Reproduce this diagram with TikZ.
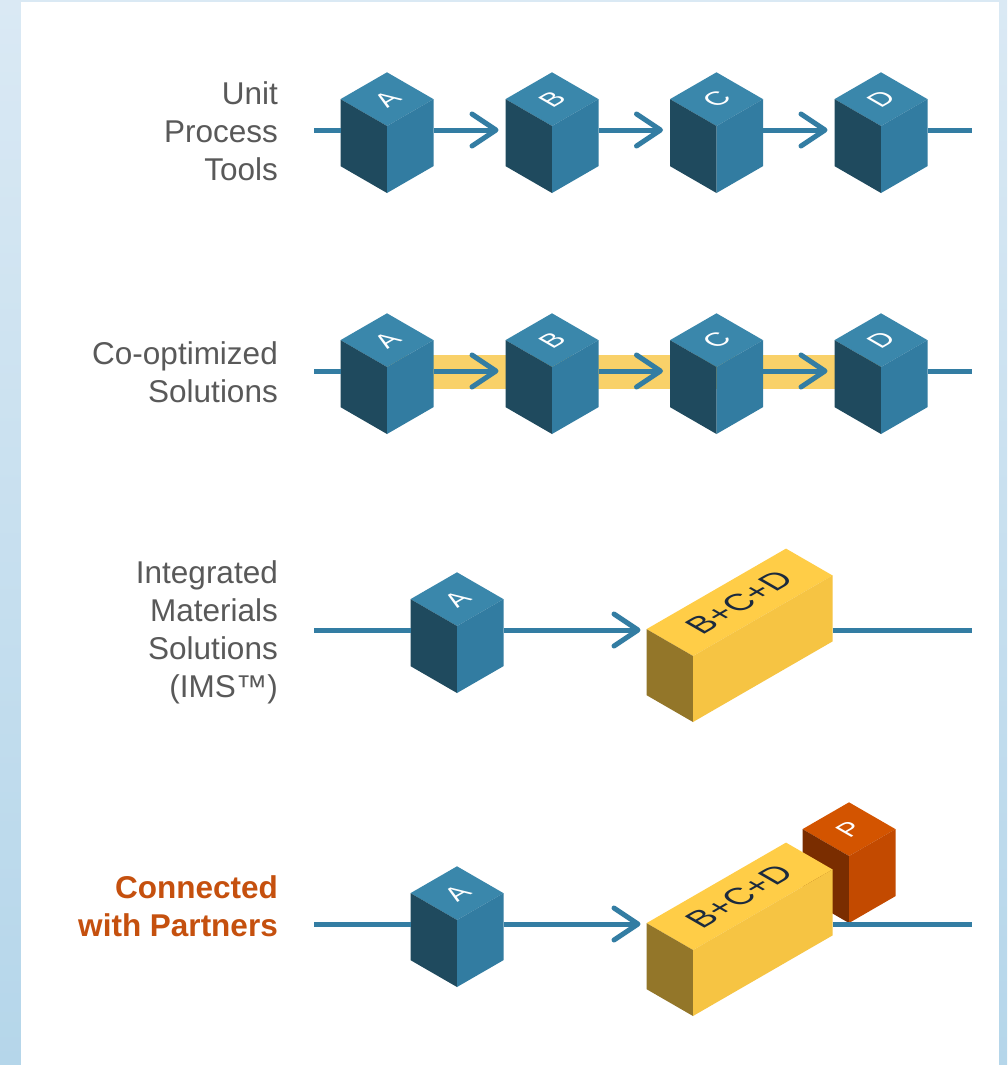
\documentclass[tikz,border=0pt]{standalone}
\usepackage{fontspec}
\setmainfont{Liberation Sans}
\usetikzlibrary{arrows.meta}
\definecolor{bgtop}{HTML}{DAE9F4}
\definecolor{bgbot}{HTML}{B5D6EA}
\definecolor{ctop}{HTML}{3A87AB}
\definecolor{cright}{HTML}{327CA1}
\definecolor{cleft}{HTML}{1F4A5E}
\definecolor{ytop}{HTML}{FFCD47}
\definecolor{yright}{HTML}{F6C443}
\definecolor{yleft}{HTML}{937629}
\definecolor{otop}{HTML}{D35400}
\definecolor{oright}{HTML}{C34A00}
\definecolor{oleft}{HTML}{7A2D00}
\definecolor{band}{HTML}{F9D169}
\definecolor{lineblue}{HTML}{337DA3}
\definecolor{txtgray}{HTML}{595959}
\definecolor{txtorange}{HTML}{C5500E}
\definecolor{navy}{HTML}{1B2A3E}
\tikzset{
  flow/.style={draw=lineblue, line width=5pt},
  arr/.style={flow, -{Straight Barb[length=24pt,width=32pt,round]}},
  lab/.style={font=\fontsize{31.5}{38}\selectfont, text=txtgray, align=right, anchor=east, inner sep=0pt},
  cubelab/.style={font=\fontsize{27}{27}\selectfont, text=white, inner sep=0pt},
  boxlab/.style={font=\fontsize{33}{33}\selectfont, text=navy, inner sep=0pt}
}
% name, cx, line y, top, right, left, label
\newcommand\isocube[7]{%
  \pgfmathsetmacro\cubX{#2}\pgfmathsetmacro\cubY{#3-4}%
  \fill[#4] (\cubX,\cubY) -- ({\cubX-46.5},{\cubY-26.85}) -- (\cubX,{\cubY-53.7}) -- ({\cubX+46.5},{\cubY-26.85}) -- cycle;
  \fill[#6] (\cubX,\cubY) -- ({\cubX-46.5},{\cubY-26.85}) -- ({\cubX-46.5},{\cubY+40.15}) -- (\cubX,{\cubY+67}) -- cycle;
  \fill[#5] (\cubX,\cubY) -- ({\cubX+46.5},{\cubY-26.85}) -- ({\cubX+46.5},{\cubY+40.15}) -- (\cubX,{\cubY+67}) -- cycle;
  \coordinate (#1-w) at ({\cubX-46.5},#3);
  \coordinate (#1-e) at ({\cubX+46.5},#3);
  \begin{scope}[shift={(\cubX,{\cubY-26.85})},cm={0.866,0.5,-0.866,0.5,(0,0)}]
    \node[cubelab,transform shape] (#1-lab) at (0,0) {#7};
  \end{scope}}
% name, front x, line y, label
\newcommand\isobox[4]{%
  \pgfmathsetmacro\boxX{#2}\pgfmathsetmacro\boxY{#3+26}%
  \fill[ytop] (\boxX,\boxY) -- ({\boxX-46.5},{\boxY-26.85}) -- ({\boxX+93},{\boxY-107.4}) -- ({\boxX+139.5},{\boxY-80.55}) -- cycle;
  \fill[yleft] (\boxX,\boxY) -- ({\boxX-46.5},{\boxY-26.85}) -- ({\boxX-46.5},{\boxY+39.15}) -- (\boxX,{\boxY+66}) -- cycle;
  \fill[yright] (\boxX,\boxY) -- ({\boxX+139.5},{\boxY-80.55}) -- ({\boxX+139.5},{\boxY-14.55}) -- (\boxX,{\boxY+66}) -- cycle;
  \coordinate (#1-w) at ({\boxX-46.5},#3);
  \coordinate (#1-e) at ({\boxX+139.5},#3);
  \begin{scope}[shift={({\boxX+46.5},{\boxY-53.7})},cm={0.866,0.5,-0.866,0.5,(0,0)}]
    \node[boxlab,transform shape] (#1-lab) at (0,0) {#4};
  \end{scope}}
\begin{document}
\begin{tikzpicture}[x=1pt,y=-1pt]
\useasboundingbox (0,0) rectangle (1007,1065);
\shade[top color=bgtop, bottom color=bgbot] (0,0) rectangle (1007,1065);
\fill[white] (21,2) rectangle (999,1065);

% labels
\node[lab] (t1) at (278,131) {Unit\\Process\\Tools};
\node[lab] (t2) at (278,372) {Co-optimized\\Solutions};
\node[lab] (t3) at (278,632) {Integrated\\Materials\\Solutions\\(IMS™)};
\node[lab, text=txtorange, font=\fontsize{31.5}{38}\selectfont\bfseries] (t4) at (278,906) {Connected\\with Partners};

% row 1
\coordinate (r1s) at (314,130); \coordinate (r1e) at (972,130);
\isocube{A1}{387}{130}{ctop}{cright}{cleft}{A}
\isocube{B1}{552}{130}{ctop}{cright}{cleft}{B}
\isocube{C1}{716.5}{130}{ctop}{cright}{cleft}{C}
\isocube{D1}{881}{130}{ctop}{cright}{cleft}{D}
\draw[flow] (r1s) -- (A1-w);
\draw[arr, shorten >=7pt] (A1-e) -- (B1-w);
\draw[arr, shorten >=7pt] (B1-e) -- (C1-w);
\draw[arr, shorten >=7pt] (C1-e) -- (D1-w);
\draw[flow] (D1-e) -- (r1e);

% row 2
\coordinate (r2s) at (314,371); \coordinate (r2e) at (972,371);
\coordinate (bandA) at (387,355); \coordinate (bandB) at (881,389);
\fill[band] (bandA) rectangle (bandB);
\isocube{A2}{387}{371}{ctop}{cright}{cleft}{A}
\isocube{B2}{552}{371}{ctop}{cright}{cleft}{B}
\isocube{C2}{716.5}{371}{ctop}{cright}{cleft}{C}
\isocube{D2}{881}{371}{ctop}{cright}{cleft}{D}
\draw[flow] (r2s) -- (A2-w);
\draw[arr, shorten >=7pt] (A2-e) -- (B2-w);
\draw[arr, shorten >=7pt] (B2-e) -- (C2-w);
\draw[arr, shorten >=7pt] (C2-e) -- (D2-w);
\draw[flow] (D2-e) -- (r2e);

% row 3
\coordinate (r3s) at (314,630); \coordinate (r3e) at (972,630);
\isocube{A3}{457}{630}{ctop}{cright}{cleft}{A}
\isobox{X3}{693}{630}{B+C+D}
\draw[flow] (r3s) -- (A3-w);
\draw[arr, shorten >=6pt] (A3-e) -- (X3-w);
\draw[flow] (X3-e) -- (r3e);

% row 4
\coordinate (r4s) at (314,924); \coordinate (r4e) at (972,924);
\isocube{A4}{457}{924}{ctop}{cright}{cleft}{A}
\isocube{P4}{849}{860}{otop}{oright}{oleft}{P}
\isobox{X4}{693}{924}{B+C+D}
\draw[flow] (r4s) -- (A4-w);
\draw[arr, shorten >=6pt] (A4-e) -- (X4-w);
\draw[flow] (X4-e) -- (r4e);
\end{tikzpicture}
\end{document}
